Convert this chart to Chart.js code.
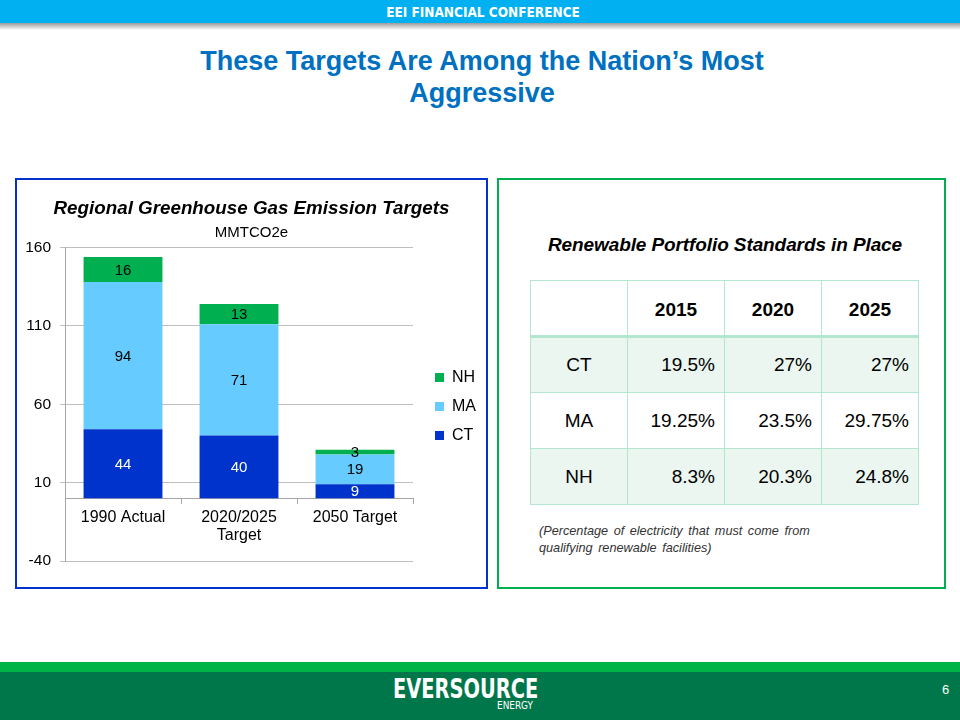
<!DOCTYPE html>
<html>
<head>
<meta charset="utf-8">
<script src="https://cdn.jsdelivr.net/npm/chart.js@4.4.1/dist/chart.umd.min.js"></script>
<style>
  html, body { margin:0; padding:0; background:#fff; }
  body { width:960px; height:720px; position:relative; overflow:hidden; font-family:"Liberation Sans", Arial, sans-serif; }
  .topbar { position:absolute; left:0; top:0; width:960px; height:23px; background:#00B0F0; }
  .topshadow { position:absolute; left:0; top:23px; width:960px; height:7px; background:linear-gradient(#9a9a9a, #ffffff); }
  .topbar span { position:absolute; left:3px; width:960px; top:4px; text-align:center; color:#fff; font-weight:bold; font-size:13.5px; font-family:"Liberation Sans Narrow","DejaVu Sans Condensed","Liberation Sans",sans-serif; }
  .title { position:absolute; left:0; width:964px; top:45px; text-align:center; color:#0070C0; font-weight:bold; font-size:27px; line-height:32px; }
  .box { position:absolute; box-sizing:border-box; top:178px; height:411px; }
  .leftbox { left:15px; width:473px; border:2px solid #0033CC; }
  .rightbox { left:497px; width:449px; border:2px solid #00B050; }
  #chartWrap { position:absolute; left:17px; top:180px; width:469px; height:407px; }
  .rtitle { position:absolute; left:497px; width:456px; top:234px; text-align:center; font-weight:bold; font-style:italic; font-size:19px; letter-spacing:-0.1px; color:#000; }
  table { position:absolute; left:530px; top:280px; border-collapse:collapse; font-size:19px; color:#000; }
  td { border:1.5px solid #B3E6CF; width:97px; height:56px; box-sizing:border-box; padding:0 9px 0 0; text-align:right; }
  td.lab { text-align:center; padding:0; }
  tr.hdr td { font-weight:bold; text-align:center; padding:4px 0 0 0; border-bottom:3px solid #B3E6CF; }
  tr.shade td { background:#EAF6EF; }
  .note { position:absolute; left:539px; top:523px; font-size:12.7px; font-style:italic; color:#333; line-height:17px; word-spacing:2px; }
  .stripe { position:absolute; left:0; top:662px; width:960px; height:10px; background:#00B447; }
  .footer { position:absolute; left:0; top:672px; width:960px; height:48px; background:#00774B; }
  .logo { position:absolute; left:393px; top:675px; color:#fff; font-weight:bold; font-size:27px; line-height:27px; font-family:"Liberation Sans Narrow","DejaVu Sans Condensed","Liberation Sans",sans-serif; transform:scaleX(0.8); transform-origin:0 0; }
  .energy { position:absolute; left:497px; top:699px; color:#fff; font-size:11px; font-family:"Liberation Sans Narrow","DejaVu Sans Condensed","Liberation Sans",sans-serif; transform:scaleX(0.9); transform-origin:0 0; }
  .page { position:absolute; left:942px; top:682px; color:#fff; font-size:13px; font-family:"Liberation Sans Narrow","Liberation Sans",sans-serif; }
</style>
</head>
<body>
<div class="topbar"><span>EEI FINANCIAL CONFERENCE</span></div>
<div class="topshadow"></div>
<div class="title">These Targets Are Among the Nation’s Most<br>Aggressive</div>

<div class="box leftbox"></div>
<div id="chartWrap"><canvas id="c" width="469" height="407"></canvas></div>

<div class="box rightbox"></div>
<div class="rtitle">Renewable Portfolio Standards in Place</div>
<table id="tbl"></table>
<div class="note">(Percentage of electricity that must come from<br>qualifying renewable facilities)</div>

<div class="stripe"></div>
<div class="footer"></div>
<div class="logo">EVERSOURCE</div>
<div class="energy">ENERGY</div>
<div class="page">6</div>

<script>
// ---- Chart data ----
const categories = [["1990 Actual"], ["2020/2025", "Target"], ["2050 Target"]];
const ctValues = [44, 40, 9];
const maValues = [94, 71, 19];
const nhValues = [16, 13, 3];
const yTicks = [-40, 10, 60, 110, 160];

// ---- Table data ----
const tableYears = ["2015", "2020", "2025"];
const tableStates = ["CT", "MA", "NH"];
const rpsCT = ["19.5%", "27%", "27%"];
const rpsMA = ["19.25%", "23.5%", "29.75%"];
const rpsNH = ["8.3%", "20.3%", "24.8%"];

// build table
(function(){
  const tbl = document.getElementById('tbl');
  let html = '<tr class="hdr"><td></td>' + tableYears.map(y => '<td>' + y + '</td>').join('') + '</tr>';
  const rows = [rpsCT, rpsMA, rpsNH];
  rows.forEach((r, i) => {
    html += '<tr class="' + (i % 2 === 0 ? 'shade' : '') + '"><td class="lab">' + tableStates[i] + '</td>' +
      r.map(v => '<td>' + v + '</td>').join('') + '</tr>';
  });
  tbl.innerHTML = html;
})();

const FONT = "'Liberation Sans', Arial, sans-serif";

const barLabels = {
  id: 'barLabels',
  afterDatasetsDraw(chart) {
    const ctx = chart.ctx;
    ctx.save();
    ctx.font = "15px " + FONT;
    ctx.textAlign = 'center';
    ctx.textBaseline = 'middle';
    chart.data.datasets.forEach((ds, i) => {
      const meta = chart.getDatasetMeta(i);
      meta.data.forEach((bar, j) => {
        const p = bar.getProps(['x', 'y', 'base'], true);
        ctx.fillStyle = ds.labelColor;
        ctx.fillText(String(ds.data[j]), p.x, (p.y + p.base) / 2 + 1);
      });
    });
    ctx.restore();
  }
};

new Chart(document.getElementById('c'), {
  type: 'bar',
  data: {
    labels: categories,
    datasets: [
      { label: 'CT', data: ctValues, backgroundColor: '#0033CC', labelColor: '#ffffff' },
      { label: 'MA', data: maValues, backgroundColor: '#66CCFF', labelColor: '#000000' },
      { label: 'NH', data: nhValues, backgroundColor: '#00B050', labelColor: '#000000' }
    ]
  },
  options: {
    responsive: false,
    animation: false,
    devicePixelRatio: 1,
    datasets: { bar: { categoryPercentage: 0.68, barPercentage: 1.0 } },
    layout: { padding: { top: 18, left: 0, right: 0, bottom: 26 } },
    plugins: {
      title: {
        display: true,
        text: 'Regional Greenhouse Gas Emission Targets',
        color: '#000',
        font: { family: FONT, size: 18.8, weight: 'bold', style: 'italic' },
        padding: { top: 0, bottom: 3 }
      },
      subtitle: {
        display: true,
        text: 'MMTCO2e',
        color: '#000',
        font: { family: FONT, size: 15 },
        padding: { top: 0, bottom: 6 }
      },
      legend: {
        position: 'right',
        reverse: true,
        title: { display: true, text: ' ', font: { family: FONT, size: 10, lineHeight: 1 }, padding: { top: 44, bottom: 0 } },
        labels: {
          boxWidth: 9, boxHeight: 9, padding: 13,
          color: '#000',
          font: { family: FONT, size: 16 }
        }
      },
      tooltip: { enabled: false }
    },
    scales: {
      x: {
        stacked: true,
        position: { y: 0 },
        grid: { display: true, drawOnChartArea: false, offset: true, tickLength: 5, color: '#A6A6A6' },
        border: { color: '#A6A6A6' },
        ticks: { color: '#000', font: { family: FONT, size: 16, lineHeight: 1.15 }, padding: 5, maxRotation: 0, autoSkip: false }
      },
      y: {
        stacked: true,
        min: yTicks[0],
        max: yTicks[yTicks.length - 1],
        afterBuildTicks: (scale) => { scale.ticks = yTicks.map(v => ({ value: v })); },
        afterFit: (s) => { s.width = 48; },
        grid: { color: '#BFBFBF', tickLength: 5 },
        border: { color: '#A6A6A6' },
        ticks: { color: '#000', font: { family: FONT, size: 15.5 }, padding: 9 }
      },
      gap: {
        position: 'right',
        display: true,
        grid: { display: false },
        border: { display: false },
        ticks: { display: false },
        afterFit: (s) => { s.width = 9; }
      }
    }
  },
  plugins: [barLabels]
});
</script>
</body>
</html>
